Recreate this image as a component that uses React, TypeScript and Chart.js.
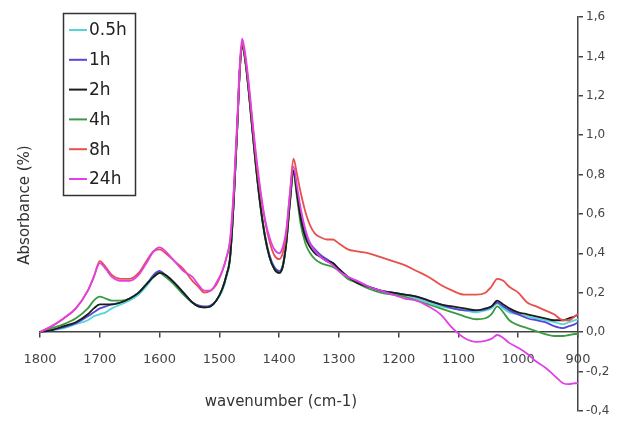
import React, { useEffect, useRef } from "react";
import { Chart, registerables } from "chart.js";

Chart.register(...registerables);

const wavenumbers = [
  1800, 1780, 1760, 1740, 1720, 1710, 1700, 1690, 1680, 1665,
  1650, 1635, 1620, 1610, 1600, 1590, 1575, 1560, 1545, 1535,
  1525, 1515, 1505, 1495, 1488, 1482, 1476, 1470, 1466, 1462,
  1458, 1452, 1446, 1440, 1432, 1424, 1416, 1408, 1400, 1394,
  1388, 1382, 1376, 1370, 1364, 1356, 1348, 1340, 1330, 1320,
  1310, 1300, 1285, 1270, 1250, 1230, 1210, 1190, 1170, 1150,
  1130, 1110, 1090, 1070, 1055, 1045, 1035, 1025, 1015, 1000,
  985, 970, 955, 940, 925, 915, 905, 900,
];

const abs05h = [
  0.0, 0.01, 0.02, 0.04, 0.06, 0.08, 0.09, 0.1, 0.12, 0.14,
  0.16, 0.19, 0.24, 0.28, 0.3, 0.28, 0.24, 0.19, 0.15, 0.13,
  0.125, 0.13, 0.16, 0.21, 0.28, 0.37, 0.65, 1.03, 1.31, 1.45,
  1.4, 1.25, 1.06, 0.87, 0.65, 0.49, 0.38, 0.32, 0.3, 0.33,
  0.45, 0.65, 0.81, 0.7, 0.59, 0.49, 0.44, 0.41, 0.38, 0.36,
  0.35, 0.32, 0.28, 0.25, 0.23, 0.21, 0.2, 0.19, 0.17, 0.15,
  0.13, 0.12, 0.11, 0.1, 0.11, 0.12, 0.145, 0.12, 0.1, 0.09,
  0.08, 0.07, 0.06, 0.05, 0.04, 0.05, 0.06, 0.065,
];

const abs1h = [
  0.0, 0.01, 0.025, 0.045, 0.08, 0.1, 0.12, 0.13, 0.14, 0.15,
  0.17, 0.2, 0.25, 0.29, 0.31, 0.29, 0.25, 0.2, 0.15, 0.135,
  0.13, 0.135, 0.16, 0.22, 0.29, 0.38, 0.66, 1.04, 1.32, 1.46,
  1.41, 1.26, 1.07, 0.88, 0.66, 0.5, 0.39, 0.33, 0.31, 0.34,
  0.46, 0.66, 0.82, 0.71, 0.6, 0.5, 0.45, 0.42, 0.39, 0.37,
  0.35, 0.32, 0.28, 0.26, 0.23, 0.21, 0.2, 0.19, 0.18, 0.16,
  0.14, 0.12, 0.11, 0.11, 0.115, 0.13, 0.15, 0.13, 0.11, 0.09,
  0.07, 0.06, 0.05, 0.03, 0.02, 0.03, 0.04, 0.05,
];

const abs2h = [
  0.0, 0.01, 0.03, 0.05, 0.09, 0.12, 0.14, 0.14, 0.14, 0.15,
  0.17, 0.2, 0.25, 0.28, 0.3, 0.29, 0.25, 0.2, 0.15, 0.13,
  0.125, 0.13, 0.16, 0.22, 0.29, 0.38, 0.66, 1.04, 1.32, 1.46,
  1.41, 1.26, 1.07, 0.88, 0.66, 0.49, 0.38, 0.32, 0.3, 0.33,
  0.45, 0.66, 0.82, 0.7, 0.58, 0.48, 0.43, 0.4, 0.38, 0.36,
  0.35, 0.32, 0.28, 0.25, 0.23, 0.21, 0.2, 0.19, 0.18, 0.16,
  0.14, 0.13, 0.12, 0.11, 0.12, 0.13, 0.16, 0.14, 0.12, 0.1,
  0.09, 0.08, 0.07, 0.06, 0.06, 0.07, 0.08, 0.09,
];

const abs4h = [
  0.0, 0.02, 0.04, 0.07, 0.12, 0.16, 0.18, 0.17, 0.16, 0.16,
  0.17, 0.2, 0.25, 0.28, 0.3, 0.28, 0.24, 0.19, 0.15, 0.13,
  0.125, 0.13, 0.16, 0.22, 0.29, 0.38, 0.66, 1.04, 1.32, 1.46,
  1.41, 1.26, 1.07, 0.88, 0.66, 0.49, 0.38, 0.32, 0.3, 0.33,
  0.45, 0.65, 0.81, 0.68, 0.55, 0.45, 0.4, 0.37, 0.35, 0.34,
  0.33, 0.31, 0.27, 0.25, 0.22, 0.2, 0.19, 0.18, 0.16, 0.14,
  0.12, 0.1, 0.08, 0.065, 0.07, 0.09, 0.13, 0.1, 0.06, 0.035,
  0.02, 0.005, -0.01, -0.02, -0.02, -0.015, -0.01, -0.01,
];

const abs8h = [
  0.0, 0.03, 0.07, 0.12, 0.21, 0.28, 0.36, 0.33, 0.29, 0.27,
  0.27, 0.3, 0.37, 0.41, 0.42, 0.4, 0.36, 0.32, 0.26, 0.23,
  0.2, 0.21, 0.24, 0.31, 0.38, 0.46, 0.7, 1.05, 1.32, 1.47,
  1.42, 1.28, 1.1, 0.92, 0.72, 0.57, 0.46, 0.39, 0.37, 0.4,
  0.5, 0.7, 0.88, 0.8, 0.71, 0.61, 0.54, 0.5, 0.48, 0.47,
  0.47, 0.45, 0.42, 0.41, 0.4, 0.38, 0.36, 0.34, 0.31, 0.28,
  0.24, 0.21, 0.19, 0.19, 0.2, 0.23, 0.27, 0.26, 0.23, 0.2,
  0.15, 0.13, 0.11, 0.09, 0.06, 0.06, 0.08, 0.09,
];

const abs24h = [
  0.0, 0.03, 0.07, 0.12, 0.21, 0.28, 0.35, 0.32, 0.28, 0.26,
  0.26, 0.29, 0.36, 0.41, 0.43, 0.41, 0.36, 0.31, 0.28, 0.24,
  0.21, 0.21, 0.25, 0.31, 0.38, 0.47, 0.72, 1.08, 1.35, 1.49,
  1.44, 1.3, 1.12, 0.94, 0.74, 0.58, 0.48, 0.42, 0.4, 0.43,
  0.52, 0.7, 0.84, 0.74, 0.63, 0.52, 0.45, 0.41, 0.38, 0.36,
  0.34, 0.31, 0.28, 0.26, 0.23, 0.21, 0.19, 0.17, 0.16, 0.13,
  0.09, 0.02, -0.03, -0.05, -0.045, -0.035, -0.015, -0.03, -0.055, -0.08,
  -0.11, -0.15, -0.18, -0.22, -0.26, -0.265, -0.26, -0.26,
];

const seriesLabels = ["0.5h", "1h", "2h", "4h", "8h", "24h"];
const seriesColors = ["#55d4dc", "#5548d6", "#1c1c1c", "#3c9a44", "#e8504c", "#e040e6"];
const drawOrder = [5, 4, 2, 3, 1, 0];

const xTitle = "wavenumber (cm-1)";
const yTitle = "Absorbance (%)";

const FONT = '"DejaVu Sans", Verdana, sans-serif';

const overlayPlugin = {
  id: "overlay",
  afterDraw(chart: any) {
    const c = chart.ctx as CanvasRenderingContext2D;
    c.save();
    c.fillStyle = "#333";
    c.textAlign = "center";
    c.textBaseline = "middle";
    c.font = `15px ${FONT}`;
    c.save();
    c.translate(25, 205);
    c.rotate(-Math.PI / 2);
    c.fillText(yTitle, 0, 0);
    c.restore();
    c.fillText(xTitle, 281, 402);

    // legend
    c.fillStyle = "#fff";
    c.fillRect(63.5, 13.5, 72, 182);
    c.strokeStyle = "#333";
    c.lineWidth = 1.5;
    c.strokeRect(63.5, 13.5, 72, 182);
    c.font = `17px ${FONT}`;
    c.textAlign = "left";
    seriesLabels.forEach((lab, i) => {
      const y = 30 + i * 29.8;
      c.strokeStyle = seriesColors[i];
      c.lineWidth = 2;
      c.beginPath();
      c.moveTo(69, y);
      c.lineTo(87, y);
      c.stroke();
      c.fillStyle = "#222";
      c.fillText(lab, 89, y + 1);
    });
    c.restore();
  },
};

export default function App() {
  const ref = useRef<HTMLCanvasElement>(null);
  useEffect(() => {
    const canvas = ref.current!;
    const series = [abs05h, abs1h, abs2h, abs4h, abs8h, abs24h];
    const chart = new Chart(canvas, {
      type: "line",
      data: {
        datasets: series.map((vals, i) => ({
          label: seriesLabels[i],
          data: wavenumbers.map((x, j) => ({ x, y: vals[j] })),
          borderColor: seriesColors[i],
          backgroundColor: seriesColors[i],
          borderWidth: 1.8,
          pointRadius: 0,
          fill: false,
          cubicInterpolationMode: "monotone",
          order: drawOrder[i],
        })),
      },
      options: {
        responsive: false,
        animation: false,
        layout: { padding: { left: 40, top: 17, right: 0, bottom: 8 } },
        plugins: { legend: { display: false }, tooltip: { enabled: false } },
        scales: {
          x: {
            type: "linear",
            reverse: true,
            min: 900,
            max: 1800,
            position: { y: 0 } as any,
            ticks: {
              stepSize: 100,
              autoSkip: false,
              maxRotation: 0,
              padding: 15,
              color: "#444",
              font: { family: FONT, size: 13 },
              callback: (v: any) => String(v),
            },
            grid: { drawOnChartArea: false, drawTicks: true, tickLength: 5, color: "#444", lineWidth: 1.5 },
            border: { display: true, color: "#444", width: 1.5 },
            afterFit: (s: any) => {
              s.height = 0;
            },
          },
          y: {
            type: "linear",
            position: "right",
            min: -0.4,
            max: 1.6,
            ticks: {
              stepSize: 0.2,
              padding: 3,
              color: "#444",
              font: { family: FONT, size: 12 },
              callback: (v: any) => (Math.round(Number(v) * 10) / 10).toFixed(1).replace(".", ","),
            },
            grid: { drawOnChartArea: false, drawTicks: true, tickLength: 5, color: "#444", lineWidth: 1.5 },
            border: { display: true, color: "#444", width: 1.5 },
            afterFit: (s: any) => {
              s.width = 49;
            },
          },
        },
      },
      plugins: [overlayPlugin],
    });
    return () => chart.destroy();
  }, []);
  return (
    <div style={{ position: "absolute", left: 0, top: 0, width: 627, height: 421, background: "#fff" }}>
      <canvas ref={ref} width={627} height={421} style={{ display: "block" }} />
    </div>
  );
}
